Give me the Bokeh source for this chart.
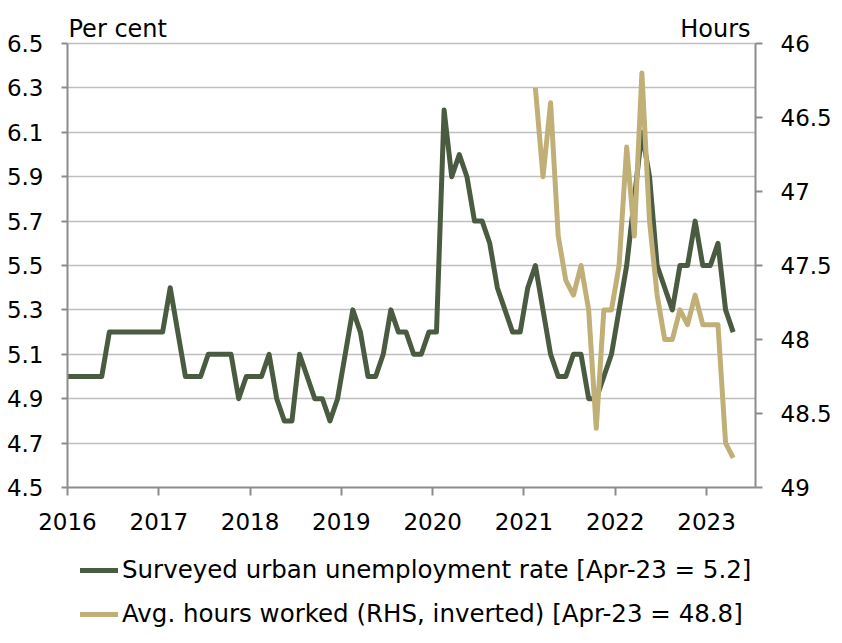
from bokeh.plotting import figure
from bokeh.layouts import column
from bokeh.models import (Range1d, LinearAxis, FixedTicker, NumeralTickFormatter,
                          Legend, LegendItem, Label)
from bokeh.embed import file_html
from bokeh.resources import INLINE

# ---------------- data ----------------
unemp_start = (2015, 12)   # first month of the unemployment series
unemployment = [
    5.0,
    5.0, 5.0, 5.0, 5.0, 5.0, 5.2, 5.2, 5.2, 5.2, 5.2, 5.2, 5.2,   # 2016
    5.2, 5.4, 5.2, 5.0, 5.0, 5.0, 5.1, 5.1, 5.1, 5.1, 4.9, 5.0,   # 2017
    5.0, 5.0, 5.1, 4.9, 4.8, 4.8, 5.1, 5.0, 4.9, 4.9, 4.8, 4.9,   # 2018
    5.1, 5.3, 5.2, 5.0, 5.0, 5.1, 5.3, 5.2, 5.2, 5.1, 5.1, 5.2,   # 2019
    5.2, 6.2, 5.9, 6.0, 5.9, 5.7, 5.7, 5.6, 5.4, 5.3, 5.2, 5.2,   # 2020
    5.4, 5.5, 5.3, 5.1, 5.0, 5.0, 5.1, 5.1, 4.9, 4.9, 5.0, 5.1,   # 2021
    5.3, 5.5, 5.8, 6.1, 5.9, 5.5, 5.4, 5.3, 5.5, 5.5, 5.7, 5.5,   # 2022
    5.5, 5.6, 5.3, 5.2,                                           # 2023
]
hours_start = (2021, 2)
hours = [
    46.3, 46.9, 46.4, 47.3, 47.6, 47.7, 47.5, 47.8, 48.6, 47.8, 47.8,         # 2021
    47.5, 46.7, 47.3, 46.2, 47.2, 47.7, 48.0, 48.0, 47.8, 47.9, 47.7, 47.9,   # 2022
    47.9, 47.9, 48.7, 48.8,                                                   # 2023
]
year_ticks = [2016, 2017, 2018, 2019, 2020, 2021, 2022, 2023]
left_ticks = [4.5, 4.7, 4.9, 5.1, 5.3, 5.5, 5.7, 5.9, 6.1, 6.3, 6.5]
right_ticks = [46, 46.5, 47, 47.5, 48, 48.5, 49]
legend_labels = ["Surveyed urban unemployment rate [Apr-23 = 5.2]",
                 "Avg. hours worked (RHS, inverted) [Apr-23 = 48.8]"]


def month_positions(start, n):
    y, m = start
    out = []
    for _ in range(n):
        out.append(y + (m - 0.5) / 12.0)
        m += 1
        if m > 12:
            m = 1
            y += 1
    return out


ux = month_positions(unemp_start, len(unemployment))
hx = month_positions(hours_start, len(hours))

GREEN = "#4a5b41"
TAN = "#c0b077"
FONT = "DejaVu Sans"
AXIS_C = "#8c8c8c"

# frame is extended above the 6.5 line to hold the unit labels
HEAD = 31.0
FRAME_H = 444.0
L_LO, L_HI = 4.5, 6.5
R_LO, R_HI = 46.0, 49.0
PER_PX = (L_HI - L_LO) / FRAME_H
l_top = L_HI + HEAD * PER_PX
r_top = R_LO - HEAD * (R_HI - R_LO) / FRAME_H

p = figure(width=842, height=545, output_backend="svg", toolbar_location=None,
           x_range=Range1d(2016.0, 2023.536), y_range=Range1d(L_LO, l_top),
           min_border_left=67, min_border_right=87, min_border_top=12,
           min_border_bottom=58)
p.extra_y_ranges = {"hours": Range1d(start=R_HI, end=r_top)}
p.outline_line_color = None
p.background_fill_color = "white"
p.border_fill_color = "white"

# axes
p.xaxis.ticker = FixedTicker(ticks=year_ticks)
p.yaxis.ticker = FixedTicker(ticks=left_ticks)
p.yaxis.formatter = NumeralTickFormatter(format="0.0")
p.yaxis.bounds = (L_LO, L_HI)

raxis = LinearAxis(y_range_name="hours", ticker=FixedTicker(ticks=right_ticks),
                   formatter=NumeralTickFormatter(format="0.[0]"),
                   bounds=(R_LO, R_HI))
p.add_layout(raxis, "right")

for ax in [p.xaxis[0], p.yaxis[0], raxis]:
    ax.axis_line_color = AXIS_C
    ax.axis_line_width = 2
    ax.major_tick_line_color = AXIS_C
    ax.major_tick_line_width = 2
    ax.major_tick_in = 0
    ax.minor_tick_line_color = None
    ax.major_label_text_font = FONT
    ax.major_label_text_font_size = "23px"
    ax.major_label_text_color = "black"

p.xaxis.major_tick_out = 8
p.xaxis.major_label_standoff = 17
p.yaxis.major_tick_out = 6
p.yaxis.major_label_standoff = 18
raxis.major_tick_out = 7
raxis.major_label_standoff = 18

p.xgrid.grid_line_color = None
p.ygrid.ticker = FixedTicker(ticks=left_ticks)
p.ygrid.grid_line_color = "#bfbfbf"
p.ygrid.grid_line_width = 1.3

# lines
r1 = p.line(ux, unemployment, line_color=GREEN, line_width=5, line_join="round")
r2 = p.line(hx, hours, line_color=TAN, line_width=5, line_join="round",
            y_range_name="hours")

# axis titles above the top gridline
title_y = L_HI + 15 * PER_PX
p.add_layout(Label(x=2016.0, y=title_y, text="Per cent", text_font=FONT,
                   text_font_size="24px", text_color="black",
                   text_baseline="middle", text_align="left",
                   x_offset=1))
p.add_layout(Label(x=2023.536, y=title_y, text="Hours", text_font=FONT,
                   text_font_size="24px", text_color="black",
                   text_baseline="middle", text_align="right",
                   x_offset=-5))

# legend lives in a small figure under the chart (frames are aligned)
lg = figure(width=842, height=98, output_backend="svg", toolbar_location=None,
            x_range=Range1d(0, 1), y_range=Range1d(0, 1),
            x_axis_type=None, y_axis_type=None,
            min_border_left=0, min_border_right=0, min_border_top=0,
            min_border_bottom=0)
lg.outline_line_color = None
lg.xgrid.visible = False
lg.ygrid.visible = False
nan = float("nan")
k1 = lg.line(x=[nan], y=[nan], line_color=GREEN, line_width=5, line_cap="round")
k2 = lg.line(x=[nan], y=[nan], line_color=TAN, line_width=5, line_cap="round")

legend = Legend(items=[LegendItem(label=legend_labels[0], renderers=[k1]),
                       LegendItem(label=legend_labels[1], renderers=[k2])],
                location=(13, 15), orientation="vertical",
                glyph_width=38, glyph_height=28, label_height=28,
                label_standoff=4, spacing=15, padding=0, margin=0,
                border_line_color=None, background_fill_alpha=0,
                label_text_font=FONT, label_text_font_size="24.5px",
                label_text_color="black")
lg.add_layout(legend, "center")

open("out.html", "w").write(file_html(column(p, lg, spacing=0), INLINE))
